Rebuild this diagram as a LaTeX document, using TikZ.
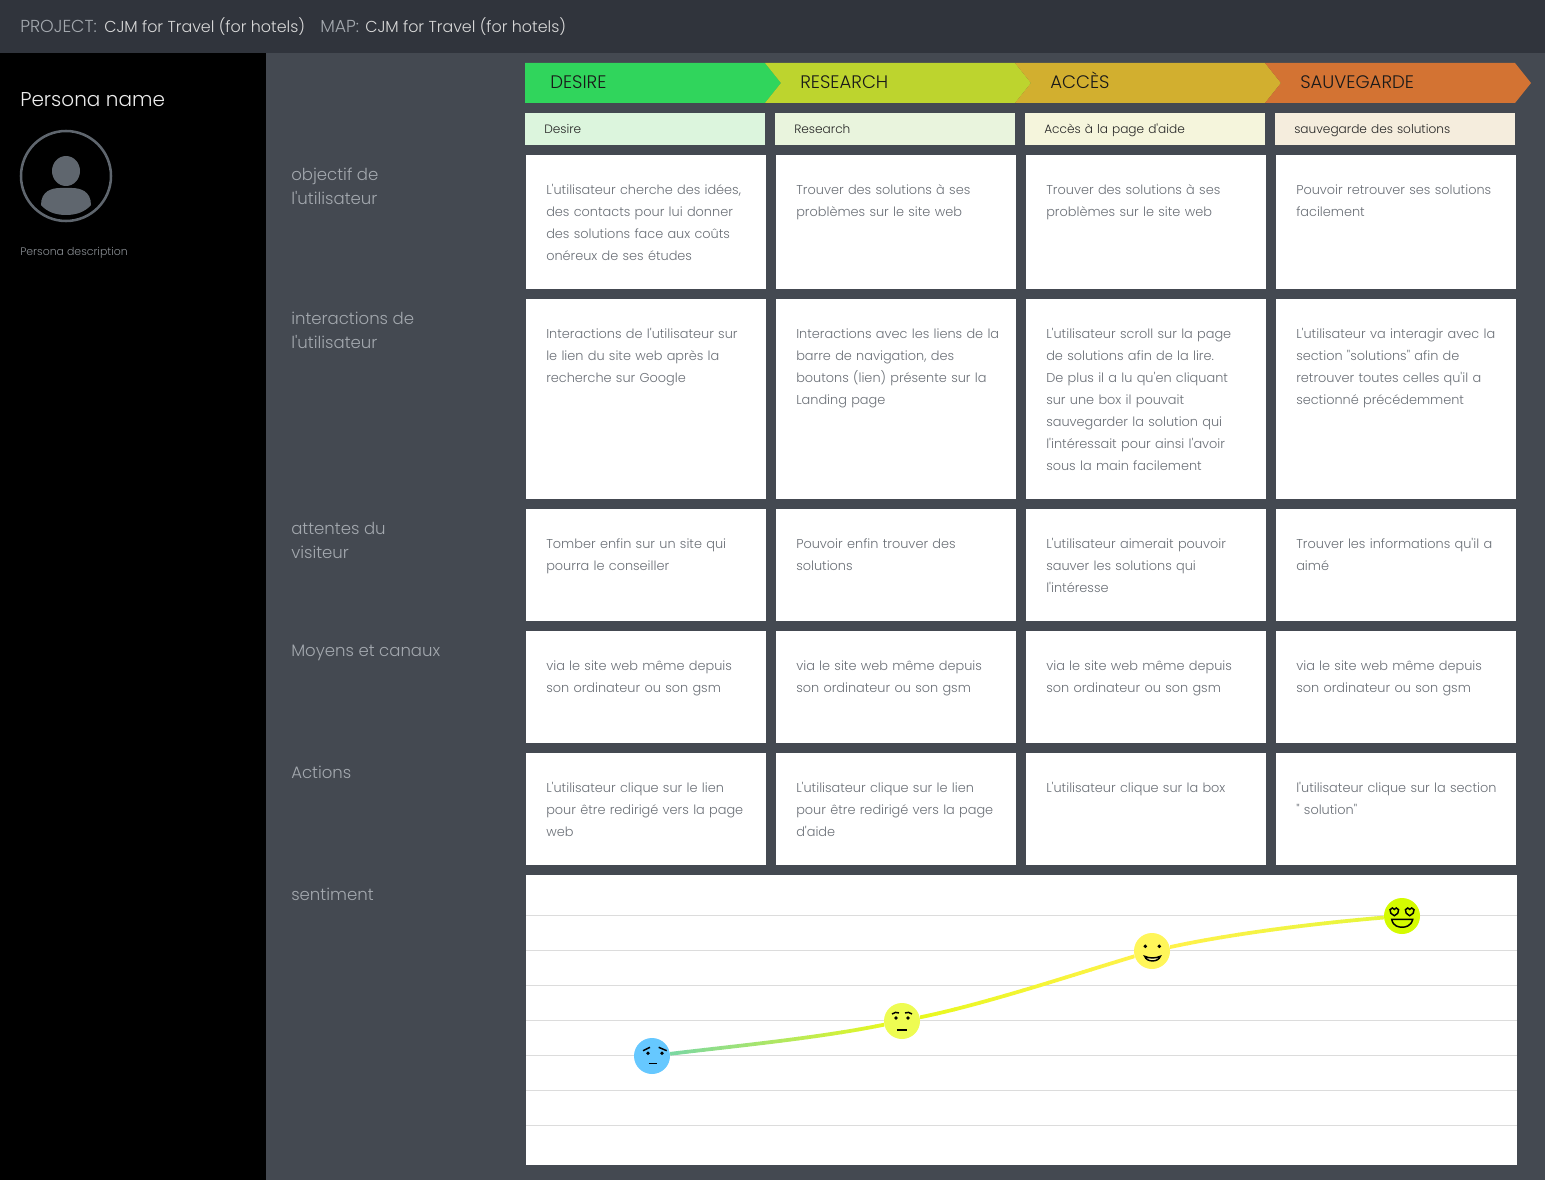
\documentclass[tikz,border=0pt]{standalone}
\usepackage{fontspec}
\setmainfont{Poppins}[UprightFont=* Light, Ligatures=TeXOff]
\usetikzlibrary{calc}

\definecolor{pagebg}{HTML}{444951}
\definecolor{barbg}{HTML}{30343C}
\definecolor{cardgrey}{HTML}{6B7077}
\definecolor{sidetext}{HTML}{A3A8AE}
\definecolor{gridline}{HTML}{DCDCDC}
\definecolor{avatar}{HTML}{5F666E}
\definecolor{stepA}{HTML}{30D55C}
\definecolor{stepB}{HTML}{BDD42E}
\definecolor{stepC}{HTML}{D2AF2F}
\definecolor{stepD}{HTML}{D37333}
\definecolor{subA}{HTML}{DCF5DD}
\definecolor{subB}{HTML}{E9F4DD}
\definecolor{subC}{HTML}{F5F5DC}
\definecolor{subD}{HTML}{F5EDDD}
\definecolor{moodA}{HTML}{66C8FF}
\definecolor{moodB}{HTML}{EEFC52}
\definecolor{moodC}{HTML}{FFF65A}
\definecolor{moodD}{HTML}{D4FB00}
\definecolor{lineA}{HTML}{7CD8A0}
\definecolor{lineB}{HTML}{E8F81F}
\definecolor{lineC}{HTML}{FFF24A}
\definecolor{lineD}{HTML}{E6F63C}

\tikzset{
  card/.style={anchor=north west, fill=white, minimum width=180pt, inner sep=0pt},
  cardtext/.style={anchor=north west, text=cardgrey, text width=168pt, inner sep=0pt, align=left,
    font=\fontsize{9.65}{16.5}\selectfont, execute at begin node=\rule{0pt}{10pt}},
  subhead/.style={anchor=west, minimum width=180pt, minimum height=24pt, text width=151.5pt,
    text height=8.25pt, text depth=1.75pt, inner xsep=14.25pt, inner ysep=0pt, align=left,
    text=black!85, font=\fontsize{9.1}{12}\selectfont},
  steplabel/.style={anchor=base west, inner sep=0pt, text=black!90, font=\fontsize{13.6}{15}\selectfont},
  sidelabel/.style={anchor=north west, inner sep=0pt, text=sidetext, align=left,
    font=\fontsize{12.4}{18}\selectfont},
  barlabel/.style={anchor=base west, inner sep=0pt, text=sidetext, font=\fontsize{13}{15}\selectfont},
  barvalue/.style={anchor=base west, inner sep=0pt, text=white!85!black, font=\fontsize{11.9}{15}\selectfont},
  mood/.style={circle, minimum size=27pt, inner sep=0pt},
  facepen/.style={line width=1.1pt, black},
  curveline/.style={line width=2.8pt}
}

\newcommand{\moodcurve}[8]{%
  \foreach \i in {0,...,24} {
    \pgfmathsetmacro{\mix}{100-\i*4}
    \begin{scope}
      \clip ({#5+(#6-#5)*\i/25},860) rectangle ({#5+(#6-#5)*(\i+1)/25+0.5},1170);
      \draw[curveline, color=#7!\mix!#8] (#1) .. controls (#3) and (#4) .. (#2);
    \end{scope}
  }
}

\begin{document}
\begin{tikzpicture}[x=0.75pt, y=-0.75pt]
  \useasboundingbox (0,0) rectangle (1545,1180);
  \fill[pagebg] (0,0) rectangle (1545,1180);
  \fill[barbg] (0,0) rectangle (1545,53);
  \fill[black] (0,53) rectangle (266,1180);

  \node[barlabel] (project) at (20,33) {PROJECT:};
  \node[barvalue] (projectname) at (104,33) {CJM for Travel (for hotels)};
  \node[barlabel] (map) at (320,33) {MAP:};
  \node[barvalue] (mapname) at (365,33) {CJM for Travel (for hotels)};

  \node[anchor=west, inner sep=0pt, text=white!92!black, font=\fontsize{15}{18}\selectfont] (persona) at (20,100) {Persona name};
  \node[circle, draw=avatar, line width=1.9pt, minimum size=67.5pt, inner sep=0pt] (avatar) at (66,176) {};
  \fill[avatar] (66,171) ellipse [x radius=14, y radius=15];
  \fill[avatar] (41,205) .. controls (41,191) and (52,188) .. (60,188) -- (72,188)
    .. controls (80,188) and (91,191) .. (91,205) .. controls (85,212) and (76,215) .. (66,215)
    .. controls (56,215) and (47,212) .. (41,205) -- cycle;
  \node[anchor=west, inner sep=0pt, text=sidetext!85!black, font=\fontsize{8.2}{10}\selectfont] (description) at (20,253) {Persona description};

  \fill[stepA] (525,63) -- (765,63) -- (781,83) -- (765,103) -- (525,103) -- cycle;
  \fill[stepB] (765,63) -- (1015,63) -- (1031,83) -- (1015,103) -- (765,103) -- (781,83) -- cycle;
  \fill[stepC] (1015,63) -- (1265,63) -- (1281,83) -- (1265,103) -- (1015,103) -- (1031,83) -- cycle;
  \fill[stepD] (1265,63) -- (1515,63) -- (1531,83) -- (1515,103) -- (1265,103) -- (1281,83) -- cycle;
  \node[steplabel] (desire) at (550,89) {DESIRE};
  \node[steplabel] (research) at (800,89) {RESEARCH};
  \node[steplabel] (acces) at (1050,89) {ACCÈS};
  \node[steplabel] (sauvegarde) at (1300,89) {SAUVEGARDE};

  \node[subhead, fill=subA] (subdesire) at (525,129) {Desire};
  \node[subhead, fill=subB] (subresearch) at (775,129) {Research};
  \node[subhead, fill=subC] (subacces) at (1025,129) {Accès à la page d'aide};
  \node[subhead, fill=subD] (subsauvegarde) at (1275,129) {sauvegarde des solutions};

  \node[sidelabel] (objectif) at (291,168) {objectif de\\l'utilisateur};
  \node[sidelabel] (interactions) at (291,312) {interactions de\\l'utilisateur};
  \node[sidelabel] (attentes) at (291,522) {attentes du\\visiteur};
  \node[sidelabel] (moyens) at (291,645) {Moyens et canaux};
  \node[sidelabel] (actions) at (291,766) {Actions};
  \node[sidelabel] (sentiment) at (291,888) {sentiment};

  \foreach \col/\xx in {A/526,B/776,C/1026,D/1276} {
    \node[card, minimum height=100.5pt] (obj\col) at (\xx,155) {};
    \node[card, minimum height=150pt] (int\col) at (\xx,299) {};
    \node[card, minimum height=84pt] (att\col) at (\xx,509) {};
    \node[card, minimum height=84pt] (moy\col) at (\xx,631) {};
    \node[card, minimum height=84pt] (act\col) at (\xx,753) {};
  }

  \node[cardtext] (objAtext) at (546,180.7) {L'utilisateur cherche des idées,\\des contacts pour lui donner\\des solutions face aux coûts\\onéreux de ses études};
  \node[cardtext] (objBtext) at (796,180.7) {Trouver des solutions à ses\\problèmes sur le site web};
  \node[cardtext] (objCtext) at (1046,180.7) {Trouver des solutions à ses\\problèmes sur le site web};
  \node[cardtext] (objDtext) at (1296,180.7) {Pouvoir retrouver ses solutions\\facilement};

  \node[cardtext] (intAtext) at (546,324.7) {Interactions de l'utilisateur sur\\le lien du site web après la\\recherche sur Google};
  \node[cardtext] (intBtext) at (796,324.7) {Interactions avec les liens de la\\barre de navigation, des\\boutons (lien) présente sur la\\Landing page};
  \node[cardtext] (intCtext) at (1046,324.7) {L'utilisateur scroll sur la page\\de solutions afin de la lire.\\De plus il a lu qu'en cliquant\\sur une box il pouvait\\sauvegarder la solution qui\\l'intéressait pour ainsi l'avoir\\sous la main facilement};
  \node[cardtext] (intDtext) at (1296,324.7) {L'utilisateur va interagir avec la\\section "solutions" afin de\\retrouver toutes celles qu'il a\\sectionné précédemment};

  \node[cardtext] (attAtext) at (546,534.7) {Tomber enfin sur un site qui\\pourra le conseiller};
  \node[cardtext] (attBtext) at (796,534.7) {Pouvoir enfin trouver des\\solutions};
  \node[cardtext] (attCtext) at (1046,534.7) {L'utilisateur aimerait pouvoir\\sauver les solutions qui\\l'intéresse};
  \node[cardtext] (attDtext) at (1296,534.7) {Trouver les informations qu'il a\\aimé};

  \foreach \col/\xx in {A/546,B/796,C/1046,D/1296}
    \node[cardtext] (moy\col text) at (\xx,656.7) {via le site web même depuis\\son ordinateur ou son gsm};

  \node[cardtext] (actAtext) at (546,778.7) {L'utilisateur clique sur le lien\\pour être redirigé vers la page\\web};
  \node[cardtext] (actBtext) at (796,778.7) {L'utilisateur clique sur le lien\\pour être redirigé vers la page\\d'aide};
  \node[cardtext] (actCtext) at (1046,778.7) {L'utilisateur clique sur la box};
  \node[cardtext] (actDtext) at (1296,778.7) {l'utilisateur clique sur la section\\" solution"};

  \node[anchor=north west, fill=white, minimum width=743.25pt, minimum height=217.5pt, inner sep=0pt] (chart) at (526,875) {};
  \foreach \yy in {915,950,...,1125}
    \draw[gridline, line width=0.75pt] (526,\yy) -- (1517,\yy);

  \node[mood, fill=moodA] (moodsad) at (652,1056) {};
  \node[mood, fill=moodB] (moodflat) at (902,1021) {};
  \node[mood, fill=moodC] (moodsmile) at (1152,951) {};
  \node[mood, fill=moodD] (moodlove) at (1402,916) {};

  \moodcurve{moodsad}{moodflat}{735,1046}{819,1038}{670}{884}{lineA}{lineB}
  \moodcurve{moodflat}{moodsmile}{985,1004}{1069,976}{920}{1134}{lineB}{lineC}
  \moodcurve{moodsmile}{moodlove}{1235,933}{1319,923}{1170}{1384}{lineC}{lineD}

  \begin{scope}[shift={(moodsad)}]
    \fill (-4,-2.7) circle (1.9) (10,-2.7) circle (1.9);
    \draw[facepen] (-9,-5.3) -- (-2,-8.7) (6.7,-8.7) -- (14.7,-5.3);
    \draw[facepen] (-3.3,7.3) -- (4.7,7.3);
  \end{scope}
  \begin{scope}[shift={(moodflat)}]
    \fill (-6,-3) circle (1.9) (6,-3) circle (1.9);
    \draw[facepen] (-10,-7) .. controls (-8,-9) and (-5,-9) .. (-3,-8);
    \draw[facepen] (3,-8) .. controls (5,-9) and (8,-9) .. (10,-7);
    \draw[facepen] (-5,9) -- (5,9);
  \end{scope}
  \begin{scope}[shift={(moodsmile)}]
    \fill (-6.7,-4.7) circle (1.9) (7.3,-4.7) circle (1.9);
    \draw[facepen, fill=white!50!moodC] (-7.3,5.3) .. controls (-3,7.5) and (4,7.5) .. (8.3,5.3)
      .. controls (6.5,11.5) and (-5.5,11.5) .. (-7.3,5.3) -- cycle;
  \end{scope}
  \begin{scope}[shift={(moodlove)}]
    \foreach \sx in {-7.7,7.7}
      \draw[facepen] (\sx,-0.3) .. controls ($(\sx,-0.3)+(-3,-2)$) and ($(\sx,-0.3)+(-5,-3)$) .. ($(\sx,-0.3)+(-4.3,-6)$)
        .. controls ($(\sx,-0.3)+(-3,-8.5)$) and ($(\sx,-0.3)+(-0.8,-8)$) .. ($(\sx,-0.3)+(0,-6.3)$)
        .. controls ($(\sx,-0.3)+(0.8,-8)$) and ($(\sx,-0.3)+(3,-8.5)$) .. ($(\sx,-0.3)+(4.3,-6)$)
        .. controls ($(\sx,-0.3)+(5,-3)$) and ($(\sx,-0.3)+(3,-2)$) .. (\sx,-0.3) -- cycle;
    \draw[facepen] (-10.3,3.3) -- (10.7,3.3) .. controls (9,10.5) and (3,11.2) .. (0.2,11.2)
      .. controls (-3,11.2) and (-9,10.5) .. (-10.3,3.3) -- cycle;
  \end{scope}
\end{tikzpicture}
\end{document}
